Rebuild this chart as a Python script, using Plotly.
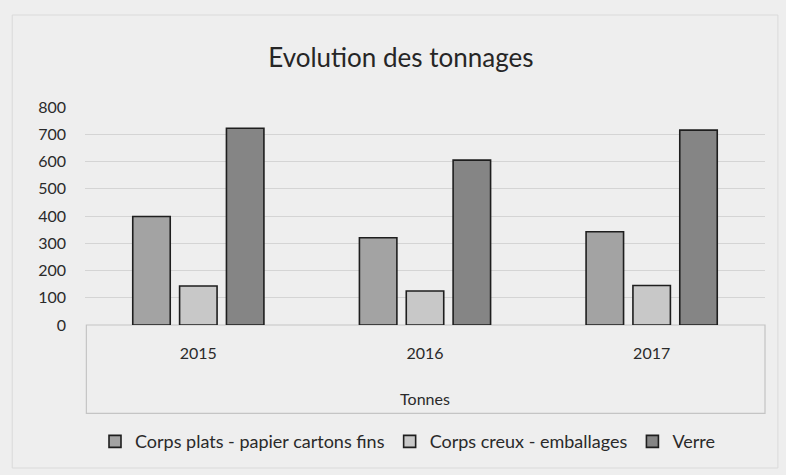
import plotly.graph_objects as go

years = ["2015", "2016", "2017"]
series_names = ["Corps plats - papier cartons fins", "Corps creux - emballages", "Verre"]
corps_plats = [398, 320, 342]
corps_creux = [143, 125, 145]
verre = [722, 605, 715]
y_ticks = [0, 100, 200, 300, 400, 500, 600, 700, 800]

values = [corps_plats, corps_creux, verre]
colors = ["#a3a3a3", "#c8c8c8", "#858585"]

FONT = "Lato, 'Open Sans', sans-serif"
BG = "#eeeeee"

fig = go.Figure()
for name, vals, col in zip(series_names, values, colors):
    fig.add_trace(go.Bar(
        x=years, y=vals, name=name,
        marker=dict(color=col, line=dict(color="#1e1e1e", width=1.6)),
    ))

fig.update_layout(
    width=786, height=475,
    margin=dict(l=85, r=21, t=107, b=150),
    paper_bgcolor=BG,
    plot_bgcolor=BG,
    barmode="group",
    bargap=0.38,
    bargroupgap=0.2,
    title=dict(text="Evolution des tonnages", x=0.51, xanchor="center",
               y=1 - 58 / 475, yanchor="middle",
               font=dict(family=FONT, size=26, color="#262626")),
    font=dict(family=FONT, color="#2a2a2a"),
    showlegend=True,
    legend=dict(orientation="h", x=0.475, xanchor="center", y=-0.535, yanchor="middle",
                font=dict(size=18, color="#2a2a2a"), bgcolor="rgba(0,0,0,0)",
                itemwidth=30, tracegroupgap=0),
    xaxis=dict(
        type="category", showgrid=False, zeroline=False, showline=False,
        ticks="", tickfont=dict(size=16, color="#2a2a2a"), ticklabelstandoff=17,
        title=dict(text="Tonnes", font=dict(size=16, color="#2a2a2a"), standoff=32),
    ),
    yaxis=dict(
        range=[0, 800], tickvals=y_ticks, showgrid=True, gridcolor="#d4d4d4",
        gridwidth=1, zeroline=False, showline=False, ticks="",
        tickfont=dict(size=16, color="#2a2a2a"), ticklabelstandoff=18,
    ),
    shapes=[
        dict(type="rect", xref="paper", yref="paper", x0=0.002, x1=1.0,
             y0=0, y1=-0.405, line=dict(color="#c4c4c4", width=1.2), layer="below"),
        dict(type="rect", xref="paper", yref="paper", x0=-0.107, x1=1.019,
             y0=-0.656, y1=1.422, line=dict(color="#dadada", width=1), layer="below"),
    ],
)

fig.write_html(
    "out.html",
    config={"displayModeBar": False},
    post_script="document.body.style.margin='0';document.body.style.background='%s';" % BG,
)
